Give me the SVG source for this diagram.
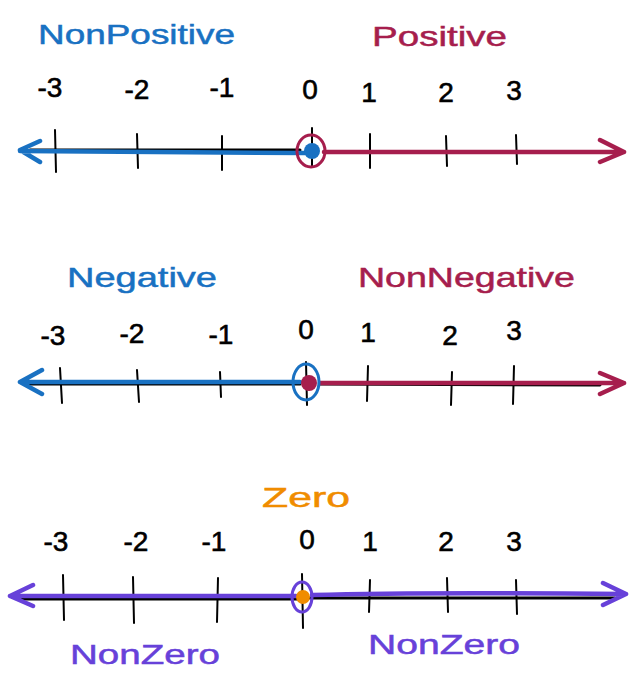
<svg xmlns="http://www.w3.org/2000/svg" width="638" height="684" viewBox="0 0 638 684">
<style>
text{font-family:"Liberation Sans","DejaVu Sans",sans-serif;}
.num{font-size:28px;fill:#000;text-anchor:middle;stroke:#000;stroke-width:0.6;}
.lab{font-size:28px;stroke-width:0.5;}
.tick{stroke:#000;stroke-width:2;fill:none;stroke-linecap:round;}
.axis{stroke:#000;stroke-width:3;fill:none;stroke-linecap:round;}
.blue{stroke:#1971c2;fill:none;stroke-width:4.5;stroke-linecap:round;stroke-linejoin:round;}
.red{stroke:#a61e4d;fill:none;stroke-width:4.5;stroke-linecap:round;stroke-linejoin:round;}
.pur{stroke:#6741d9;fill:none;stroke-width:4.5;stroke-linecap:round;stroke-linejoin:round;}
</style>
<rect width="638" height="684" fill="#fff"/>

<!-- Panel 1 -->
<g id="panel1">
  <text class="lab" x="38" y="44" fill="#1971c2" stroke="#1971c2" textLength="197" lengthAdjust="spacingAndGlyphs">NonPositive</text>
  <text class="lab" x="372" y="46" fill="#a61e4d" stroke="#a61e4d" textLength="135" lengthAdjust="spacingAndGlyphs">Positive</text>
  <g class="nums">
    <text class="num" x="50" y="97">-3</text>
    <text class="num" x="137" y="99">-2</text>
    <text class="num" x="222" y="97">-1</text>
    <text class="num" x="310" y="99">0</text>
    <text class="num" x="369" y="102">1</text>
    <text class="num" x="446" y="102">2</text>
    <text class="num" x="514" y="100">3</text>
  </g>
  <path class="axis" d="M30 150 L300 150"/>
  <path class="tick" d="M55 130 L56 172 M137 134 L138 168 M222 136 L222 170 M312 128 L312 166 M370 134 L370 168 M446 136 L447 166 M516 135 L517 164"/>
  <path class="blue" d="M20 151 L305 153 M20 150 L40 141 M20 150 L40 162"/>
  <path class="red" d="M324 152 L624 152 M624 152 L600 140 M624 152 L600 162"/>
  <circle cx="312" cy="151" r="8" fill="#1971c2"/>
  <ellipse cx="311" cy="151" rx="14" ry="16" fill="none" stroke="#a61e4d" stroke-width="3"/>
</g>

<!-- Panel 2 -->
<g id="panel2">
  <text class="lab" x="67" y="287" fill="#1971c2" stroke="#1971c2" textLength="150" lengthAdjust="spacingAndGlyphs">Negative</text>
  <text class="lab" x="358" y="287" fill="#a61e4d" stroke="#a61e4d" textLength="217" lengthAdjust="spacingAndGlyphs">NonNegative</text>
  <g class="nums">
    <text class="num" x="53" y="345">-3</text>
    <text class="num" x="132" y="343">-2</text>
    <text class="num" x="221" y="344">-1</text>
    <text class="num" x="306" y="339">0</text>
    <text class="num" x="368" y="342">1</text>
    <text class="num" x="450" y="345">2</text>
    <text class="num" x="514" y="340">3</text>
  </g>
  <path class="axis" d="M30 384 L300 384 M320 384 L600 385"/>
  <path class="tick" d="M60 368 L62 403 M137 370 L139 402 M220 372 L221 397 M306 362 L307 405 M368 366 L367 401 M452 372 L451 405 M514 366 L513 404"/>
  <path class="blue" d="M20 382 L300 382 M20 382 L42 370 M20 382 L42 394"/>
  <path class="red" d="M320 383 L624 383 M624 383 L600 373 M624 383 L600 394"/>
  <circle cx="309" cy="383" r="8" fill="#a61e4d"/>
  <ellipse cx="306" cy="382" rx="13" ry="18" fill="none" stroke="#1971c2" stroke-width="3"/>
</g>

<!-- Panel 3 -->
<g id="panel3">
  <text class="lab" x="262" y="507" fill="#f08c00" stroke="#f08c00" textLength="88" lengthAdjust="spacingAndGlyphs">Zero</text>
  <g class="nums">
    <text class="num" x="56" y="551">-3</text>
    <text class="num" x="136" y="551">-2</text>
    <text class="num" x="214" y="551">-1</text>
    <text class="num" x="307" y="549">0</text>
    <text class="num" x="370" y="551">1</text>
    <text class="num" x="446" y="551">2</text>
    <text class="num" x="514" y="551">3</text>
  </g>
  <path class="axis" d="M20 599 L300 599 M310 598 L615 598"/>
  <path class="tick" d="M63 575 L64 620 M133 577 L134 623 M218 578 L217 622 M302 574 L303 628 M370 580 L369 612 M447 578 L448 612 M516 580 L517 614"/>
  <path class="pur" d="M10 596 L296 596 M312 595 Q420 592 626 594 M10 596 L33 585 M10 596 L33 606 M626 594 L603 583 M626 594 L603 605"/>
  <circle cx="303" cy="597" r="7" fill="#f08c00"/>
  <ellipse cx="302" cy="597" rx="10" ry="15" fill="none" stroke="#6741d9" stroke-width="3"/>
  <text class="lab" x="70" y="664" fill="#6741d9" stroke="#6741d9" textLength="150" lengthAdjust="spacingAndGlyphs">NonZero</text>
  <text class="lab" x="368" y="654" fill="#6741d9" stroke="#6741d9" textLength="152" lengthAdjust="spacingAndGlyphs">NonZero</text>
</g>
</svg>
